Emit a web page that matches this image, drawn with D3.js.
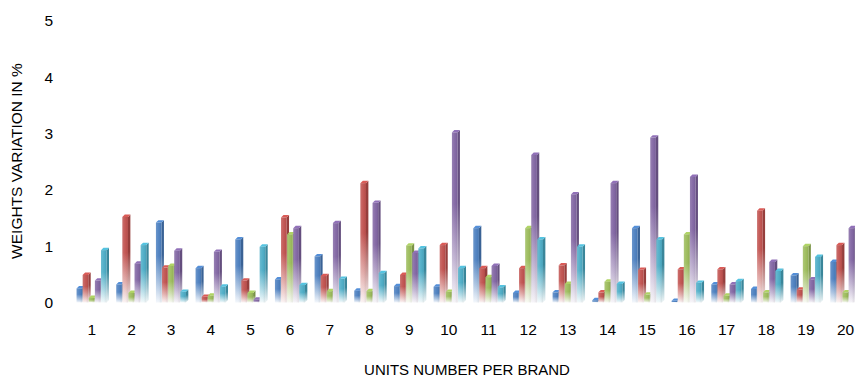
<!DOCTYPE html>
<html>
<head>
<meta charset="utf-8">
<script src="https://cdn.jsdelivr.net/npm/d3@7"></script>
<style>
  html, body { margin: 0; padding: 0; background: #fff; overflow: hidden; }
  svg { display: block; font-family: "Liberation Sans", Arial, sans-serif; }
</style>
</head>
<body>
<svg id="chart" width="855" height="378"></svg>
<script>
// Units per brand (x categories)
const units = ["1","2","3","4","5","6","7","8","9","10","11","12","13","14","15","16","17","18","19","20"];

// Weight variation (%) for each of the five series, one value per unit
const seriesBlue   = [0.25, 0.32, 1.42, 0.61, 1.12, 0.41, 0.82, 0.21, 0.29, 0.28, 1.32, 0.17, 0.18, 0.04, 1.32, 0.03, 0.32, 0.24, 0.48, 0.72];
const seriesRed    = [0.49, 1.52, 0.62, 0.10, 0.39, 1.51, 0.47, 2.12, 0.49, 1.02, 0.61, 0.61, 0.66, 0.18, 0.58, 0.59, 0.59, 1.63, 0.23, 1.02];
const seriesGreen  = [0.08, 0.17, 0.65, 0.12, 0.17, 1.21, 0.20, 0.20, 1.01, 0.19, 0.45, 1.32, 0.33, 0.37, 0.14, 1.21, 0.12, 0.18, 1.00, 0.18];
const seriesPurple = [0.39, 0.69, 0.92, 0.90, 0.05, 1.32, 1.41, 1.77, 0.88, 3.02, 0.65, 2.62, 1.92, 2.12, 2.93, 2.23, 0.32, 0.72, 0.41, 1.32];
const seriesCyan   = [0.93, 1.02, 0.19, 0.28, 0.99, 0.31, 0.42, 0.52, 0.96, 0.61, 0.27, 1.12, 0.99, 0.33, 1.12, 0.35, 0.38, 0.56, 0.81, null];

const yTicks = [0, 1, 2, 3, 4, 5];

const xTitle = "UNITS NUMBER PER BRAND";
const yTitle = "WEIGHTS VARIATION IN %";

const seriesList = [seriesBlue, seriesRed, seriesGreen, seriesPurple, seriesCyan];
const seriesColors = ["#4a7ebf", "#c0504d", "#9bbb59", "#8064a2", "#4bacc6"];

const svg = d3.select("#chart");
const baseY = 302.5;

const y = d3.scaleLinear().domain([0, 5]).range([baseY, 21]);
const x0 = d3.scaleBand().domain(units).range([72, 72 + 20 * 39.67]).padding(0);
const x1 = d3.scaleBand().domain(d3.range(seriesList.length)).range([4.6, 4.6 + 30.5]).padding(0);

const frontW = 5.6, depthX = 2.4, depthY = 2.4;

// Gradients: each column fades toward white near its base
const defs = svg.append("defs");
const white = "#ffffff";
function fadeGradient(id, c) {
  const g = defs.append("linearGradient")
    .attr("id", id).attr("x1", 0).attr("y1", 0).attr("x2", 0).attr("y2", 1);
  const stops = [
    [0, c], [0.42, c],
    [0.75, d3.interpolateRgb(c, white)(0.5)],
    [1, d3.interpolateRgb(c, white)(0.93)]
  ];
  stops.forEach(([o, col]) => g.append("stop").attr("offset", o).attr("stop-color", col));
}
function hGradient(id) {
  // slight left-to-right shading on the front face
  const g = defs.append("linearGradient")
    .attr("id", id).attr("x1", 0).attr("y1", 0).attr("x2", 1).attr("y2", 0);
  g.append("stop").attr("offset", 0).attr("stop-color", "#fff").attr("stop-opacity", 0.18);
  g.append("stop").attr("offset", 0.5).attr("stop-color", "#fff").attr("stop-opacity", 0.05);
  g.append("stop").attr("offset", 1).attr("stop-color", "#000").attr("stop-opacity", 0.08);
}
seriesColors.forEach((c, i) => {
  fadeGradient("front" + i, c);
  fadeGradient("side" + i, d3.color(c).darker(0.7).formatHex());
  hGradient("shade" + i);
});

// Columns
const plot = svg.append("g");
units.forEach((u, ui) => {
  const g = plot.append("g").attr("transform", `translate(${x0(u)},0)`);
  seriesList.forEach((vals, si) => {
    const v = vals[ui];
    if (v == null) return;
    const x = x1(si);
    const top = y(v);
    const c = seriesColors[si];
    const bar = g.append("g");
    // right side face
    bar.append("polygon")
      .attr("points", [
        [x + frontW, top], [x + frontW + depthX, top - depthY],
        [x + frontW + depthX, baseY - depthY], [x + frontW, baseY]
      ].map(p => p.join(",")).join(" "))
      .attr("fill", `url(#side${si})`);
    // top face
    bar.append("polygon")
      .attr("points", [
        [x, top], [x + depthX, top - depthY],
        [x + frontW + depthX, top - depthY], [x + frontW, top]
      ].map(p => p.join(",")).join(" "))
      .attr("fill", d3.color(c).brighter(0.35).formatHex());
    // front face
    bar.append("rect")
      .attr("x", x).attr("y", top)
      .attr("width", frontW).attr("height", baseY - top)
      .attr("fill", `url(#front${si})`);
    bar.append("rect")
      .attr("x", x).attr("y", top)
      .attr("width", frontW).attr("height", baseY - top)
      .attr("fill", `url(#shade${si})`);
  });
});

// Y axis (labels only)
const yAxis = svg.append("g")
  .attr("transform", "translate(60,0)")
  .call(d3.axisLeft(y).tickValues(yTicks).tickFormat(d3.format("d")).tickSize(0).tickPadding(7));
yAxis.select(".domain").remove();
yAxis.selectAll("text").attr("font-size", "15.5px").attr("fill", "#000")
  .attr("font-family", "'Liberation Sans', Arial, sans-serif");

// X axis (labels only)
const xAxis = svg.append("g")
  .attr("transform", `translate(0,${baseY})`)
  .call(d3.axisBottom(x0).tickSize(0).tickPadding(21));
xAxis.select(".domain").remove();
xAxis.selectAll("text").attr("font-size", "15.5px").attr("fill", "#000")
  .attr("font-family", "'Liberation Sans', Arial, sans-serif");

// Axis titles
svg.append("text")
  .attr("x", 467).attr("y", 375)
  .attr("text-anchor", "middle")
  .attr("font-size", "15px").attr("fill", "#000")
  .text(xTitle);

svg.append("text")
  .attr("transform", "translate(22,161) rotate(-90)")
  .attr("text-anchor", "middle")
  .attr("font-size", "15.5px").attr("fill", "#000")
  .text(yTitle);
</script>
</body>
</html>
